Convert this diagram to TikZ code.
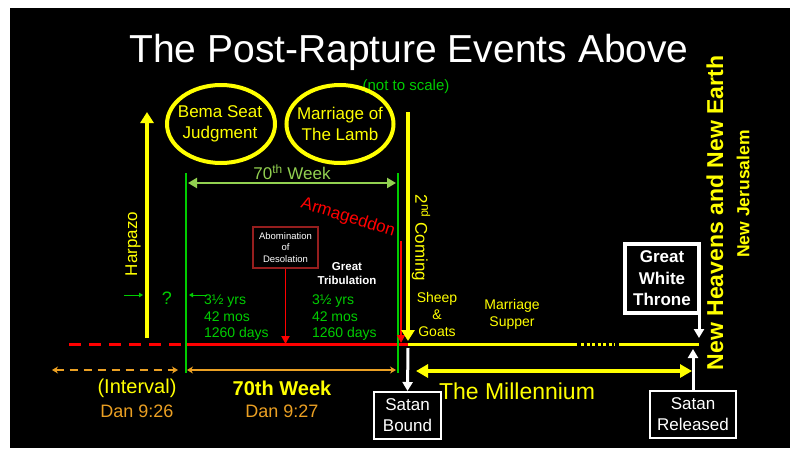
\documentclass[tikz,border=0pt]{standalone}
\usepackage{fontspec}
\setmainfont{Liberation Sans}
\usetikzlibrary{arrows.meta,shapes.geometric}
\definecolor{ylw}{RGB}{255,255,0}
\definecolor{grn}{RGB}{0,205,0}
\definecolor{lgrn}{RGB}{146,208,80}
\definecolor{org}{RGB}{235,160,35}
\definecolor{drd}{RGB}{150,30,30}
\newcommand{\fs}[2]{\fontsize{#1}{#2}\selectfont}
\begin{document}
\begin{tikzpicture}[x=1pt,y=-1pt,
  lbl/.style={inner sep=0pt, outer sep=0pt, align=center},
  bigtip/.style={-{Triangle[length=11pt,width=13pt]}},
  midtip/.style={{Triangle[length=9pt,width=10pt]}-{Triangle[length=9pt,width=10pt]}},
  smalltip/.style={-{Triangle[length=9pt,width=10pt]}},
  redtip/.style={-{Triangle[length=8pt,width=8pt]}},
  tinytip/.style={-{Triangle[length=4pt,width=4.5pt]}},
  bubbletext/.style={inner sep=0pt, text=ylw, align=center, font=\fs{17}{21}},
  bubbleline/.style={draw=ylw, line width=4pt},
  whitebox/.style={draw=white, line width=2pt, fill=black, text=white, align=center, inner sep=0pt}
]
\useasboundingbox (0,0) rectangle (790,448);
\fill[white] (0,0) rectangle (790,448);
\fill[black] (10,8) rectangle (790,448);

% title
\node[lbl, anchor=base, text=white, font=\fs{39}{44}] (title) at (409,62) {The Post-Rapture Events Above};
\node[lbl, text=grn, font=\fs{15}{18}] (scale) at (406,87) {(not to scale)};

% ellipses
\node[bubbletext] (bema) at (220,124) {Bema Seat\\Judgment};
\draw[bubbleline] (221,124) ellipse [x radius=54, y radius=39];
\node[bubbletext] (lamb) at (340,124) {Marriage of\\The Lamb};
\draw[bubbleline] (340,124) ellipse [x radius=53.5, y radius=39];

% coordinates
\coordinate (g1top) at (186,173); \coordinate (g1bot) at (186,373);
\coordinate (g2top) at (398,173); \coordinate (g2bot) at (398,373);
\coordinate (redL) at (69,344);
\coordinate (redM) at (186,344);
\coordinate (redE) at (408,344);
\coordinate (ya) at (577,344); \coordinate (da) at (581,344);
\coordinate (db) at (615,344); \coordinate (yb) at (619,344);
\coordinate (yE) at (699,344);

% timeline
\draw[red, line width=3pt, dash pattern=on 12pt off 8pt] (redL) -- (redM);
\draw[red, line width=3pt] (redM) -- (redE);
\draw[ylw, line width=3pt] (redE) -- (ya);
\draw[ylw, line width=3pt, dash pattern=on 3pt off 2.5pt] (da) -- (db);
\draw[ylw, line width=3pt] (yb) -- (yE);

% green verticals
\draw[grn, line width=2pt] (g1top) -- (g1bot);
\draw[grn, line width=2pt] (g2top) -- (g2bot);

% 70th week arrow
\coordinate (wkL) at (188,183); \coordinate (wkR) at (396,183);
\draw[lgrn, line width=2.5pt, midtip] (wkL) -- (wkR);
\node[lbl, text=lgrn, font=\fs{17}{20}] (wklbl) at (292,172) {70\textsuperscript{th} Week};

% Harpazo
\coordinate (hpB) at (147,338); \coordinate (hpT) at (147,112);
\draw[ylw, line width=4pt, bigtip] (hpB) -- (hpT);
\node[lbl, text=ylw, font=\fs{17}{20}, rotate=90] (harp) at (133,244) {Harpazo};

% small green arrows and ?
\coordinate (sa1) at (124,295); \coordinate (sa2) at (143,295);
\coordinate (sb1) at (207,295); \coordinate (sb2) at (189,295);
\draw[grn, line width=1pt, tinytip] (sa1) -- (sa2);
\draw[grn, line width=1pt, tinytip] (sb1) -- (sb2);
\node[lbl, text=grn, font=\fs{18}{20}] (q) at (167,298) {?};

% 3.5 years
\node[lbl, anchor=west, text=grn, font=\fs{14}{16.5}, align=left] (yrsL) at (204,318) {3½ yrs\\42 mos\\1260 days};
\node[lbl, anchor=west, text=grn, font=\fs{14}{16.5}, align=left] (yrsR) at (312,318) {3½ yrs\\42 mos\\1260 days};

% Abomination
\node[draw=drd, line width=1.2pt, fill=black, text=white, align=center, inner sep=0pt, minimum width=65pt, minimum height=41pt, font=\fs{9.5}{11.5}] (abom) at (285.5,247.5) {Abomination\\of\\Desolation};
\coordinate (abomT) at (abom.south |- redE);
\draw[red, line width=1.8pt, redtip] (abom.south) -- (abomT);

\node[lbl, text=white, font=\bfseries\fs{11.5}{14}] (gt) at (347,274) {Great\\Tribulation};

% Armageddon
\node[lbl, text=red, font=\fs{17}{20}, rotate=-17] (arm) at (348,218) {Armageddon};
\coordinate (armT) at (401,241); \coordinate (armB) at (401,343);
\draw[red, line width=1.8pt, redtip] (armT) -- (armB);

% 2nd coming
\coordinate (scT) at (408,112); \coordinate (scB) at (408,341);
\draw[ylw, line width=4pt, bigtip] (scT) -- (scB);
\node[lbl, text=ylw, font=\fs{17}{20}, rotate=-90] (sc) at (421,238) {2\textsuperscript{nd} Coming};

\node[lbl, text=ylw, font=\fs{14}{17}] (sheep) at (437,314) {Sheep\\\&\\Goats};
\node[lbl, text=ylw, font=\fs{14}{17}] (msup) at (512,314.5) {Marriage\\Supper};

% Great White Throne
\node[draw=white, line width=4pt, fill=black, text=white, align=center, inner sep=0pt, minimum width=74pt, minimum height=69pt, font=\bfseries\fs{17}{21.5}] (gwt) at (662,278.5) {Great\\White\\Throne};
\coordinate (gwtA) at (699,313); \coordinate (gwtB) at (699,338);
\draw[white, line width=3pt, smalltip] (gwtA) -- (gwtB);

% Satan boxes
\node[whitebox, minimum width=67pt, minimum height=47pt, font=\fs{17}{21}] (sb) at (407.5,415.5) {Satan\\Bound};
\coordinate (sbT) at (408,348);
\draw[white, line width=3pt, smalltip] (sbT) -- (sb.north);
\node[whitebox, minimum width=86pt, minimum height=47pt, font=\fs{17}{21}] (sr) at (693,414.5) {Satan\\Released};
\coordinate (srT) at (sr.north |- 0,349);
\draw[white, line width=3pt, smalltip] (sr.north) -- (srT);

% Millennium
\coordinate (miL) at (416,371); \coordinate (miR) at (692,371);
\draw[ylw, line width=4pt, {Triangle[length=12pt,width=13pt]}-{Triangle[length=12pt,width=13pt]}] (miL) -- (miR);
\node[lbl, text=ylw, font=\fs{23}{26}] (mil) at (517,391) {The Millennium};

% Interval / 70th week
\coordinate (ivL) at (52,370); \coordinate (ivR) at (178,370);
\draw[org, line width=2pt, dash pattern=on 8pt off 6pt, {Stealth[length=6pt,width=7pt]}-{Stealth[length=6pt,width=7pt]}] (ivL) -- (ivR);
\coordinate (owL) at (187,370); \coordinate (owR) at (396,370);
\draw[org, line width=2pt, {Stealth[length=6pt,width=7pt]}-{Stealth[length=6pt,width=7pt]}] (owL) -- (owR);
\node[lbl, text=ylw, font=\fs{20}{22}] (intv) at (137,388) {(Interval)};
\node[lbl, text=org, font=\fs{18}{20}] (d26) at (137,411) {Dan 9:26};
\node[lbl, text=ylw, font=\bfseries\fs{20}{22}] (wk70) at (282,388) {70th Week};
\node[lbl, text=org, font=\fs{18}{20}] (d27) at (282,411) {Dan 9:27};

% New Heavens
\node[lbl, text=ylw, font=\bfseries\fs{23}{26}, rotate=90] (nh) at (715,213) {New Heavens and New Earth};
\node[lbl, text=ylw, font=\bfseries\fs{17.5}{20}, rotate=90] (nj) at (743,194) {New Jerusalem};
\end{tikzpicture}
\end{document}
